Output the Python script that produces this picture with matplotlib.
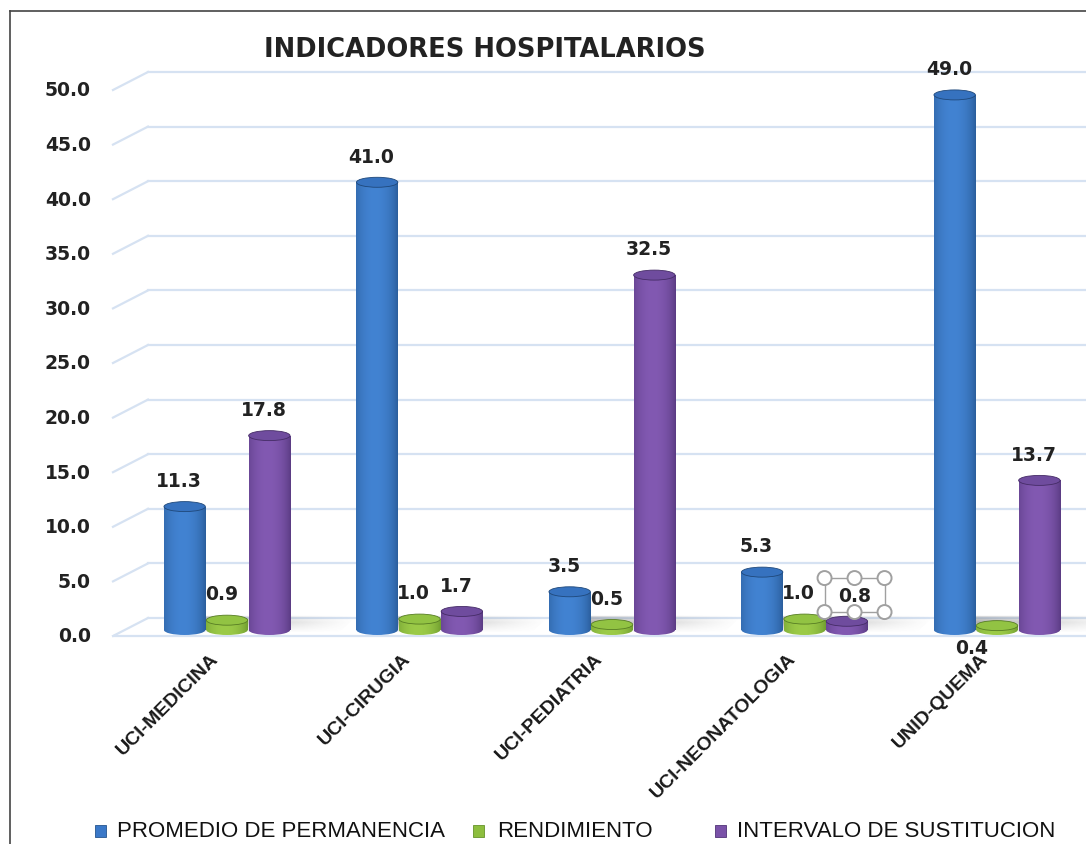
import matplotlib
matplotlib.use("Agg")
import matplotlib.pyplot as plt
import numpy as np
from matplotlib.patches import Ellipse, Rectangle, Polygon
from matplotlib.lines import Line2D
from matplotlib.colors import to_rgb

categories = ["UCI-MEDICINA", "UCI-CIRUGIA", "UCI-PEDIATRIA", "UCI-NEONATOLOGIA", "UNID-QUEMA"]
promedio = [11.3, 41.0, 3.5, 5.3, 49.0]
rendimiento = [0.9, 1.0, 0.5, 1.0, 0.4]
intervalo = [17.8, 1.7, 32.5, 0.8, 13.7]
series_names = ["PROMEDIO DE PERMANENCIA", "RENDIMIENTO", "INTERVALO DE SUSTITUCION"]
yticks = [0, 5, 10, 15, 20, 25, 30, 35, 40, 45, 50]

# (dark, light, top) for each series
colors = [("#25558F", "#4283D2", "#3672BF"),
          ("#66932A", "#9CCB48", "#92C343"),
          ("#513478", "#8259B2", "#6F4C9E")]
legend_colors = ["#3A78C8", "#8DBE3E", "#7A52A8"]

W, H = 1086, 845
fig = plt.figure(figsize=(W / 100, H / 100), dpi=100)

# plot area in pixels
left_px, right_px, top_px, bot_px = 113, 1086, 60, 650
zero_px = 631
ppu = 10.92  # pixels per unit
ax = fig.add_axes([left_px / W, 1 - bot_px / H, (right_px - left_px) / W, (bot_px - top_px) / H])
ax.set_xlim((113 - 227) / 192.5, (1086 - 227) / 192.5)
ax.set_ylim((zero_px - bot_px) / ppu, (zero_px - top_px) / ppu)
ax.axis("off")

xl = ax.get_xlim()[0]
xback = xl + 35 / 192.5
front_off = -6 / ppu
back_off = 12 / ppu
grid_c = "#D6E2F2"
for v in yticks:
    ax.plot([xl, xback], [v + front_off, v + back_off], color=grid_c, lw=1.6, zorder=1, clip_on=False)
    ax.plot([xback, 10], [v + back_off, v + back_off], color=grid_c, lw=1.6, zorder=1)
    ax.text(xl - 22 / 192.5, v + front_off, f"{v:.1f}", ha="right", va="center",
            fontsize=13.5, fontweight="bold", color="#222222", clip_on=False)
# front floor edge
ax.plot([xl, 10], [front_off, front_off], color=grid_c, lw=1.6, zorder=1)


def cylinder(x, w, h, dark, light, top):
    d = np.array(to_rgb(dark))
    l = np.array(to_rgb(light))
    t = np.linspace(0, 1, 64)
    f = np.clip(1 - ((t - 0.45) / 0.58) ** 2, 0, 1) ** 0.7
    img = (d[None, :] + (l - d)[None, :] * f[:, None])[None, :, :]
    eh = 10 / ppu
    body = Rectangle((x - w / 2, 0), w, h, transform=ax.transData)
    bottom = Ellipse((x, 0), w, eh, transform=ax.transData)
    for clip in (body, bottom):
        im = ax.imshow(img, extent=[x - w / 2, x + w / 2, -eh, h], aspect="auto",
                       zorder=3, interpolation="bilinear")
        im.set_clip_path(clip)
    ax.add_patch(Ellipse((x, h), w, eh, facecolor=top, edgecolor=d * 0.85, lw=0.6, zorder=4))


width = 0.215
offsets = [-0.22, 0.0, 0.22]
all_series = [promedio, rendimiento, intervalo]

# soft floor shadow image (alpha fades to the right and to the back)
sx = np.linspace(0, 1, 80)
sy = np.linspace(0, 1, 20)
alpha = (1 - sx[None, :]) ** 1.2 * (1 - np.abs(sy[:, None] - 0.4) / 0.6).clip(0, 1) * 0.6
shadow = np.zeros((20, 80, 4))
shadow[..., :3] = 0.3
shadow[..., 3] = alpha

for i in range(len(categories)):
    x0 = i - 0.22 - width / 2
    x1 = i + 0.22 + width / 2
    poly = Polygon([(x0 + 0.02, -0.3), (x1 + 0.25, -0.3), (x1 + 0.35, 1.3), (x0 + 0.12, 1.3)],
                   closed=True, transform=ax.transData)
    im = ax.imshow(shadow, extent=[x0 + 0.02, x1 + 0.35, -0.3, 1.3], aspect="auto",
                   zorder=2, interpolation="bilinear")
    im.set_clip_path(poly)
    for s, vals in enumerate(all_series):
        cylinder(i + offsets[s], width, vals[i], *colors[s])

# data labels
for s, vals in enumerate(all_series):
    for i, v in enumerate(vals):
        x = i + offsets[s]
        y = v + 2.4
        if s == 1 and i == 4:
            x, y = i - 0.1, -1.6
        if s == 2 and i == 3:
            x = i + 0.29
        ax.text(x - 0.03, y, f"{v:.1f}", ha="center", va="center", fontsize=13.5,
                fontweight="bold", color="#222222", zorder=6, clip_on=False)

# selection handles around the 0.8 label
hx, hy = 3 + 0.29 - 0.03, 0.8 + 2.4
hw, hh = 60 / 192.5, 34 / ppu
ax.add_patch(Rectangle((hx - hw / 2, hy - hh / 2), hw, hh, fill=False, edgecolor="#A0A0A0", lw=1, zorder=5))
for cx in (hx - hw / 2, hx, hx + hw / 2):
    for cy in (hy - hh / 2, hy + hh / 2):
        ax.add_patch(Ellipse((cx, cy), 14 / 192.5, 14 / ppu, facecolor="white",
                             edgecolor="#A0A0A0", lw=1.4, zorder=5))

# category labels
for i, c in enumerate(categories):
    ax.text(i - 0.06, -2.3, c, rotation=45, rotation_mode="anchor", ha="right", va="center",
            fontsize=14, fontweight="bold", family=["Liberation Sans", "DejaVu Sans"],
            color="#1a1a1a", clip_on=False)

fig.text(485 / W, 1 - 50 / H, "INDICADORES HOSPITALARIOS", ha="center", va="center",
         fontsize=18.5, fontweight="bold", family="DejaVu Sans", color="#222222")

# legend
leg_sq = [95, 473, 715]
leg_tx = [117, 497, 737]
for s in range(3):
    fig.patches.append(Rectangle((leg_sq[s] / W, 1 - 838 / H), 11 / W, 12 / H,
                                 transform=fig.transFigure, facecolor=legend_colors[s],
                                 edgecolor=colors[s][0], lw=0.6))
    fig.text(leg_tx[s] / W, 1 - 832 / H, series_names[s], ha="left", va="center", fontsize=16,
             family=["Liberation Sans", "DejaVu Sans"], color="#111111")

# chart border
fig.lines.append(Line2D([10 / W, 10 / W], [0, 1 - 12 / H], transform=fig.transFigure, color="#444444", lw=1.2))
fig.lines.append(Line2D([10 / W, 1], [1 - 12 / H, 1 - 12 / H], transform=fig.transFigure, color="#444444", lw=1.2))

fig.savefig("out.png", dpi=100, facecolor="white")
